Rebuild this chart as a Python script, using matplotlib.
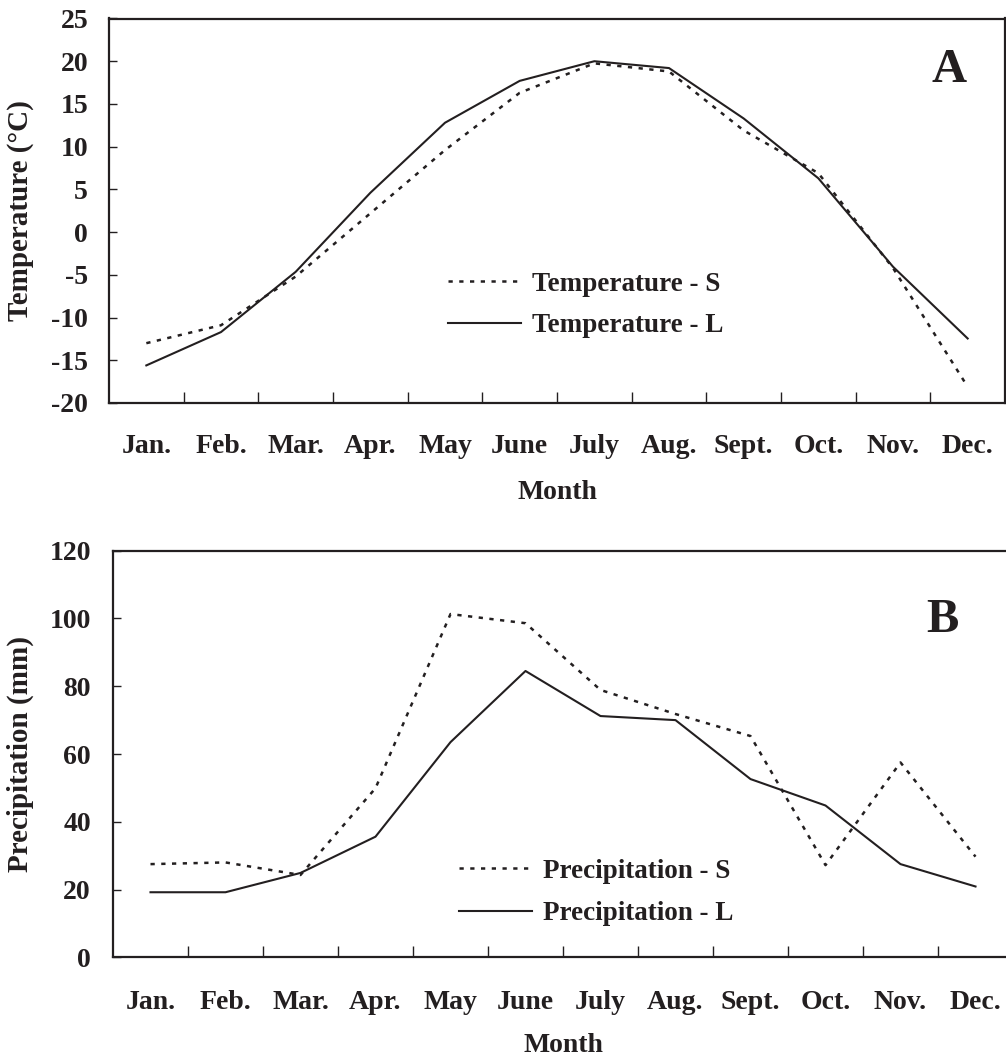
import matplotlib
matplotlib.use("Agg")
import matplotlib.pyplot as plt
import numpy as np

months = ['Jan.', 'Feb.', 'Mar.', 'Apr.', 'May', 'June', 'July', 'Aug.',
          'Sept.', 'Oct.', 'Nov.', 'Dec.']
temp_s = [-13.0, -10.9, -5.2, 2.2, 9.6, 16.3, 19.75, 18.8, 11.9, 6.9, -4.2, -18.1]
temp_l = [-15.6, -11.7, -4.65, 4.6, 12.8, 17.7, 20.0, 19.2, 13.3, 6.3, -4.05, -12.45]
prec_s = [27.5, 28.0, 24.3, 49.9, 101.3, 98.6, 78.9, 71.8, 65.3, 27.2, 57.5, 29.7]
prec_l = [19.2, 19.2, 24.9, 35.6, 63.5, 84.5, 71.2, 70.0, 52.6, 44.8, 27.5, 20.9]
temp_ticks = [-20, -15, -10, -5, 0, 5, 10, 15, 20, 25]
prec_ticks = [0, 20, 40, 60, 80, 100, 120]

INK = '#231f20'
plt.rcParams['font.family'] = ['Liberation Serif', 'DejaVu Serif']
plt.rcParams['font.weight'] = 'bold'
plt.rcParams['text.color'] = INK
plt.rcParams['axes.labelcolor'] = INK
plt.rcParams['xtick.color'] = INK
plt.rcParams['ytick.color'] = INK

W, H = 1006, 1057
fig = plt.figure(figsize=(W / 100, H / 100), dpi=100)

def px_axes(left, top, right, bottom):
    return fig.add_axes([left / W, 1 - bottom / H, (right - left) / W, (bottom - top) / H])

ax1 = px_axes(109, 18.5, 1005, 403)
ax2 = px_axes(113, 550.7, 1013, 957.3)

x = np.arange(len(months))
dot = (0, (1.7, 2.6))
TICK_FS = 20
LEG_FS = 19.5

def style(ax, yticks, ylim, ylabel, letter, letter_xy, ylab_x, xlab_y, ypad, xpad):
    ax.set_xlim(-0.5, len(months) - 0.5)
    ax.set_ylim(*ylim)
    ax.set_yticks(yticks)
    ax.set_yticklabels([str(t) for t in yticks])
    ax.set_xticks(x)
    ax.set_xticklabels(months)
    ax.set_xticks(np.arange(0.5, len(months) - 1, 1.0), minor=True)
    ax.tick_params(axis='x', which='major', length=0, pad=xpad, labelsize=TICK_FS)
    ax.tick_params(axis='x', which='minor', direction='in', length=8, width=1.0)
    ax.tick_params(axis='y', which='major', direction='in', length=6, width=1.0,
                   pad=ypad, labelsize=TICK_FS)
    for s in ax.spines.values():
        s.set_linewidth(1.6)
        s.set_color(INK)
    ax.set_ylabel(ylabel, fontsize=21, fontweight='bold')
    ax.yaxis.set_label_coords(ylab_x, 0.5)
    ax.set_xlabel('Month', fontsize=20, fontweight='bold')
    ax.xaxis.set_label_coords(0.5, xlab_y)
    ax.text(letter_xy[0], letter_xy[1], letter, transform=ax.transAxes,
            fontsize=35, fontweight='bold', ha='center', va='center')

ax1.plot(x, temp_s, color=INK, lw=1.8, linestyle=dot, label='Temperature - S')
ax1.plot(x, temp_l, color=INK, lw=1.5, label='Temperature - L')
style(ax1, temp_ticks, (-20, 25), 'Temperature (°C)', 'A',
      ((949 - 109) / 896, (403 - 70) / 384.5), -0.0837, -0.201, 15, 22)
ax1.legend(loc='center left', bbox_to_anchor=((448 - 109) / 896, (403 - 305) / 384.5),
           frameon=False, handlelength=2.7, handletextpad=0.4,
           labelspacing=0.6, borderpad=0, borderaxespad=0,
           prop={'weight': 'bold', 'size': LEG_FS})

ax2.plot(x, prec_s, color=INK, lw=1.8, linestyle=dot, label='Precipitation - S')
ax2.plot(x, prec_l, color=INK, lw=1.5, label='Precipitation - L')
style(ax2, prec_ticks, (0, 120), 'Precipitation (mm)', 'B',
      ((942 - 113) / 900, (957.3 - 620) / 406.6), -0.088, -0.185, 16, 23.5)
ax2.legend(loc='center left', bbox_to_anchor=((459 - 113) / 900, (957.3 - 892.5) / 406.6),
           frameon=False, handlelength=2.7, handletextpad=0.4,
           labelspacing=0.66, borderpad=0, borderaxespad=0,
           prop={'weight': 'bold', 'size': LEG_FS})

fig.savefig('out.png', dpi=100)
